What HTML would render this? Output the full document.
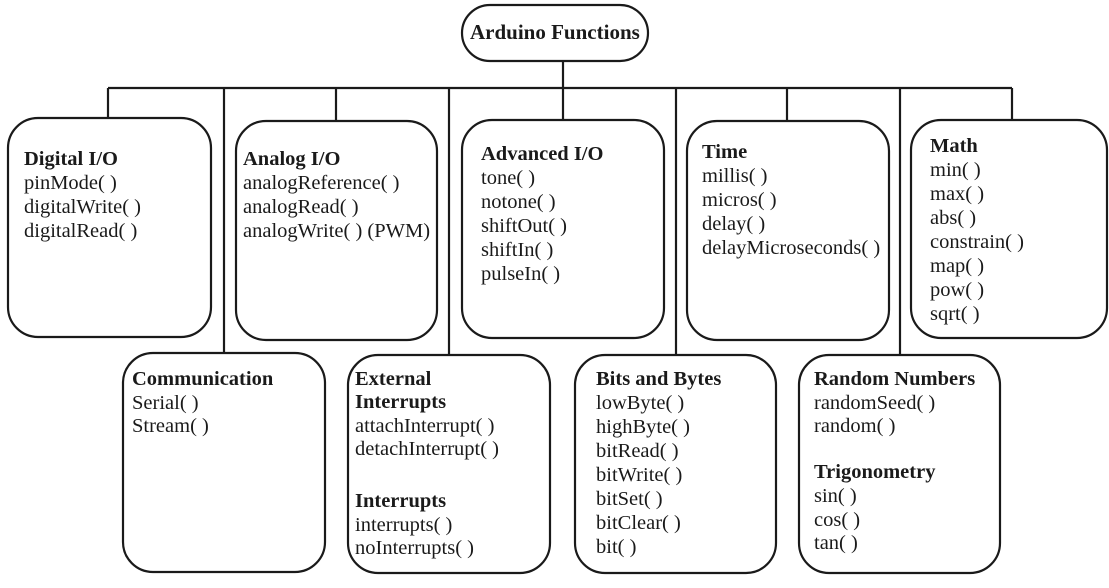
<!DOCTYPE html>
<html><head><meta charset="utf-8"><style>
html,body{margin:0;padding:0;background:#fff;}
svg{display:block;}
text{font-family:"Liberation Serif",serif;font-size:20.5px;fill:#1a1a1a;}
.b{font-weight:bold;}
</style></head><body>
<svg width="1109" height="588" viewBox="0 0 1109 588" xmlns="http://www.w3.org/2000/svg">
<g fill="none" stroke="#1a1a1a" stroke-width="2.2">
<rect x="462" y="5" width="186" height="56" rx="28"/>
<line x1="563" y1="61" x2="563" y2="88"/>
<line x1="108" y1="88" x2="1012" y2="88"/>
<line x1="108" y1="88" x2="108" y2="118"/>
<line x1="336" y1="88" x2="336" y2="121"/>
<line x1="563" y1="88" x2="563" y2="120"/>
<line x1="787" y1="88" x2="787" y2="121"/>
<line x1="1012" y1="88" x2="1012" y2="120"/>
<line x1="224" y1="88" x2="224" y2="353"/>
<line x1="449" y1="88" x2="449" y2="355"/>
<line x1="676" y1="88" x2="676" y2="355"/>
<line x1="900" y1="88" x2="900" y2="355"/>
<rect x="8" y="118" width="203" height="219" rx="30"/>
<rect x="236" y="121" width="201" height="219" rx="30"/>
<rect x="462" y="120" width="202" height="218" rx="30"/>
<rect x="687" y="121" width="202" height="219" rx="30"/>
<rect x="911" y="120" width="196" height="218" rx="30"/>
<rect x="123" y="353" width="202" height="219" rx="30"/>
<rect x="348" y="355" width="202" height="218" rx="30"/>
<rect x="575" y="355" width="201" height="218" rx="30"/>
<rect x="799" y="355" width="201" height="218" rx="30"/>
</g>
<text x="470" y="39" class="b" style="font-size:21px">Arduino Functions</text>

<text x="24" y="165" class="b">Digital I/O</text>
<text x="24" y="189">pinMode( )</text>
<text x="24" y="213">digitalWrite( )</text>
<text x="24" y="237">digitalRead( )</text>

<text x="243" y="165" class="b">Analog I/O</text>
<text x="243" y="189">analogReference( )</text>
<text x="243" y="213">analogRead( )</text>
<text x="243" y="237">analogWrite( ) (PWM)</text>

<text x="481" y="160" class="b">Advanced I/O</text>
<text x="481" y="184">tone( )</text>
<text x="481" y="208">notone( )</text>
<text x="481" y="232">shiftOut( )</text>
<text x="481" y="256">shiftIn( )</text>
<text x="481" y="280">pulseIn( )</text>

<text x="702" y="158" class="b">Time</text>
<text x="702" y="182">millis( )</text>
<text x="702" y="206">micros( )</text>
<text x="702" y="230">delay( )</text>
<text x="702" y="254">delayMicroseconds( )</text>

<text x="930" y="152" class="b">Math</text>
<text x="930" y="176">min( )</text>
<text x="930" y="200">max( )</text>
<text x="930" y="224">abs( )</text>
<text x="930" y="248">constrain( )</text>
<text x="930" y="272">map( )</text>
<text x="930" y="296">pow( )</text>
<text x="930" y="320">sqrt( )</text>

<text x="132" y="385" class="b">Communication</text>
<text x="132" y="409">Serial( )</text>
<text x="132" y="432">Stream( )</text>

<text x="355" y="385" class="b">External</text>
<text x="355" y="408" class="b">Interrupts</text>
<text x="355" y="432">attachInterrupt( )</text>
<text x="355" y="455">detachInterrupt( )</text>
<text x="355" y="507" class="b">Interrupts</text>
<text x="355" y="531">interrupts( )</text>
<text x="355" y="554">noInterrupts( )</text>

<text x="596" y="385" class="b">Bits and Bytes</text>
<text x="596" y="409">lowByte( )</text>
<text x="596" y="433">highByte( )</text>
<text x="596" y="457">bitRead( )</text>
<text x="596" y="481">bitWrite( )</text>
<text x="596" y="505">bitSet( )</text>
<text x="596" y="529">bitClear( )</text>
<text x="596" y="553">bit( )</text>

<text x="814" y="385" class="b">Random Numbers</text>
<text x="814" y="409">randomSeed( )</text>
<text x="814" y="432">random( )</text>
<text x="814" y="478" class="b">Trigonometry</text>
<text x="814" y="502">sin( )</text>
<text x="814" y="526">cos( )</text>
<text x="814" y="549">tan( )</text>
</svg>
</body></html>
